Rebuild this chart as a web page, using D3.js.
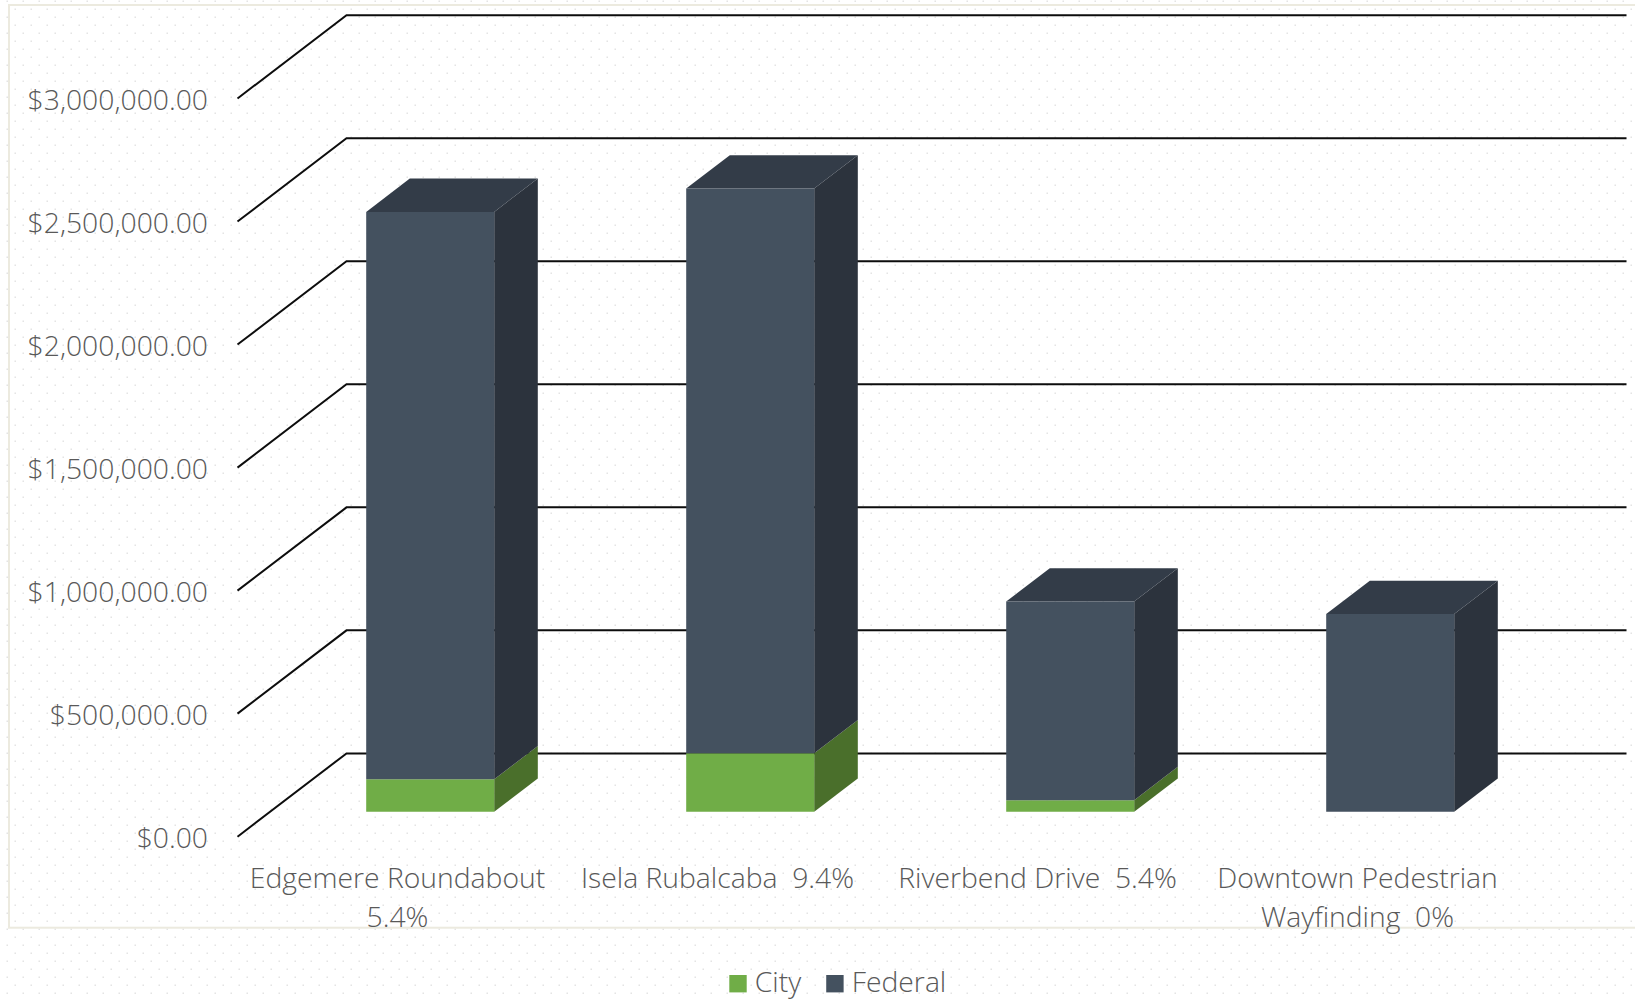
<!DOCTYPE html>
<html>
<head>
<meta charset="utf-8">
<script src="https://cdn.jsdelivr.net/npm/d3@7"></script>
<style>
  html, body { margin: 0; padding: 0; background: #ffffff; }
  svg { display: block; }
  text { font-family: "Open Sans", "Segoe UI", sans-serif; fill: #595959; white-space: pre; }
</style>
</head>
<body>
<svg id="chart" width="1635" height="1000"></svg>
<script>
// ---------------- data ----------------
const categories = [
  "Edgemere Roundabout  5.4%",
  "Isela Rubalcaba  9.4%",
  "Riverbend Drive  5.4%",
  "Downtown Pedestrian Wayfinding  0%"
];
const cityValues    = [131600, 237500, 47000, 0];
const federalValues = [2306000, 2295000, 807000, 803000];
const seriesNames   = ["City", "Federal"];
const yTicks        = [0, 500000, 1000000, 1500000, 2000000, 2500000, 3000000];

// ---------------- layout ----------------
const W = 1635, H = 1000;
const DX = 109, DY = 83.3;          // depth projection of the full floor
const Z0 = 0.30, Z1 = 0.70;         // bar depth range
const plotLeft = 237.5, plotRight = 1517.5;
const yFront0 = 836.7, yFrontTop = 98.5;
const FS = 28.3;

const colors = {
  City:    { front: "#70AD47", side: "#4A6F2B", top: "#5E9139" },
  Federal: { front: "#44515F", side: "#2C333D", top: "#333C48" }
};

const svg = d3.select("#chart");

// background dotted pattern
const defs = svg.append("defs");
const pat = defs.append("pattern").attr("id", "dots")
  .attr("width", 16).attr("height", 16).attr("patternUnits", "userSpaceOnUse");
pat.append("rect").attr("x", 6.5).attr("y", 0.5).attr("width", 1.5).attr("height", 1.5).attr("fill", "#e4e4e4");
pat.append("rect").attr("x", 14.5).attr("y", 8.5).attr("width", 1.5).attr("height", 1.5).attr("fill", "#e4e4e4");
svg.append("rect").attr("width", W).attr("height", H).attr("fill", "#ffffff");
svg.append("rect").attr("width", W).attr("height", H).attr("fill", "url(#dots)");

// chart area border
svg.append("rect").attr("x", 9).attr("y", 5).attr("width", W + 10).attr("height", 922.7)
  .attr("fill", "none").attr("stroke", "#ECEADF").attr("stroke-width", 2);

// scales
const x = d3.scaleBand().domain(categories).range([plotLeft, plotRight])
  .paddingInner(0.6).paddingOuter(0.3);
const y = d3.scaleLinear().domain([0, 3000000]).range([yFront0, yFrontTop]);

const proj = (px, v, z) => [px + z * DX, y(v) - z * DY];

// gridlines (side wall diagonal + back wall horizontal)
const grid = svg.append("g");
yTicks.forEach(t => {
  const a = proj(plotLeft, t, 0), b = proj(plotLeft, t, 1), c = proj(plotRight, t, 1);
  grid.append("path")
    .attr("d", d3.line()([a, b, c]))
    .attr("fill", "none").attr("stroke", "#0d0d0d").attr("stroke-width", 2);
});

// y axis labels
const fmt = d3.format("$,.2f");
svg.append("g").selectAll("text").data(yTicks).join("text")
  .attr("x", 208).attr("y", d => y(d))
  .attr("text-anchor", "end").attr("dominant-baseline", "central")
  .attr("font-size", FS).attr("font-weight", 300)
  .text(d => fmt(d));

// stacked data
const stackData = categories.map((c, i) => ({ cat: c, City: cityValues[i], Federal: federalValues[i] }));
const stack = d3.stack().keys(seriesNames)(stackData);

const bars = svg.append("g");
categories.forEach((cat, i) => {
  const x0 = x(cat), x1 = x(cat) + x.bandwidth();
  stack.forEach((layer, li) => {
    const [v0, v1] = layer[i];
    if (v1 - v0 <= 0) return;
    const name = layer.key;
    const col = colors[name];
    const isTop = li === stack.length - 1 || stack.slice(li + 1).every(l => l[i][1] - l[i][0] <= 0);
    bars.append("path").attr("fill", col.side)
      .attr("d", d3.line()([proj(x1, v0, Z0), proj(x1, v0, Z1), proj(x1, v1, Z1), proj(x1, v1, Z0)]) + "Z");
    if (isTop) {
      bars.append("path").attr("fill", col.top)
        .attr("d", d3.line()([proj(x0, v1, Z0), proj(x0, v1, Z1), proj(x1, v1, Z1), proj(x1, v1, Z0)]) + "Z");
    }
    bars.append("path").attr("fill", col.front)
      .attr("d", d3.line()([proj(x0, v0, Z0), proj(x1, v0, Z0), proj(x1, v1, Z0), proj(x0, v1, Z0)]) + "Z");
  });
});

// category labels with wrapping
const labelG = svg.append("g");
categories.forEach(cat => {
  const cx = x(cat) + x.bandwidth() / 2;
  const t = labelG.append("text").attr("x", cx).attr("y", 888)
    .attr("text-anchor", "middle").attr("font-size", FS).attr("font-weight", 300);
  const tokens = cat.split(/( +)/);
  const lines = [];
  let cur = "";
  const probe = labelG.append("text").attr("font-size", FS).attr("font-weight", 300);
  for (let k = 0; k < tokens.length; k += 2) {
    const word = tokens[k];
    const sep = k > 0 ? tokens[k - 1] : "";
    const trial = cur === "" ? word : cur + sep + word;
    probe.text(trial);
    if (cur !== "" && probe.node().getComputedTextLength() > 310) {
      lines.push(cur);
      cur = word;
    } else {
      cur = trial;
    }
  }
  lines.push(cur);
  probe.remove();
  lines.forEach((ln, j) => {
    t.append("tspan").attr("x", cx).attr("dy", j === 0 ? 0 : 39).text(ln);
  });
});

// legend
const legend = svg.append("g");
let lx = 729.3;
seriesNames.forEach(name => {
  legend.append("rect").attr("x", lx).attr("y", 975).attr("width", 17.4).attr("height", 17.4)
    .attr("fill", colors[name].front);
  const tx = legend.append("text").attr("x", lx + 25.5).attr("y", 992)
    .attr("font-size", FS).attr("font-weight", 300).text(name);
  lx = lx + 25.5 + tx.node().getComputedTextLength() + 25;
});
</script>
</body>
</html>
